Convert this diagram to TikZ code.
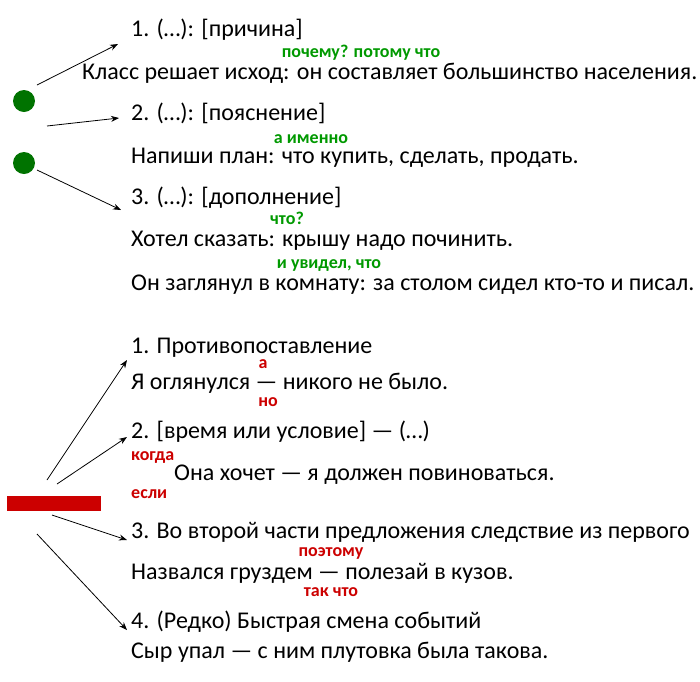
\documentclass[tikz,border=0pt]{standalone}
\usepackage{fontspec}
\setmainfont{Carlito}
\usetikzlibrary{arrows.meta}
\begin{document}
\begin{tikzpicture}[x=1pt,y=-1pt,
  txt/.style={anchor=west,inner sep=0pt,font=\fontsize{24}{26}\selectfont},
  grn/.style={inner sep=0pt,font=\fontsize{18}{20}\selectfont\bfseries,text=green!60!black},
  red/.style={inner sep=0pt,font=\fontsize{18}{20}\selectfont\bfseries,text=red!80!black},
  arr/.style={-{Stealth[length=8pt,width=6pt]},line width=0.8pt}]
\useasboundingbox (0,0) rectangle (700,681);
% upper part
\node[txt] (a1) at (131,30) {1. (…): [причина]};
\node[grn] (g1) at (361,53) {почему? потому что};
\node[txt] (a1e) at (82,73) {Класс решает исход: он составляет большинство населения.};
\node[txt] (a2) at (131,113) {2. (…): [пояснение]};
\node[grn] (g2) at (311,139) {а именно};
\node[txt] (a2e) at (131,158) {Напиши план: что купить, сделать, продать.};
\node[txt] (a3) at (131,198) {3. (…): [дополнение]};
\node[grn] (g3) at (287,218) {что?};
\node[txt] (a3e) at (131,241) {Хотел сказать: крышу надо починить.};
\node[grn] (g4) at (329,266) {и увидел, что};
\node[txt] (a4e) at (131,285) {Он заглянул в комнату: за столом сидел кто-то и писал.};
\fill[green!45!black] (24,101) circle (11);
\fill[green!45!black] (24,163) circle (11);
\coordinate (s1) at (37,85); \coordinate (e1) at (118,44);
\coordinate (s2) at (47,126); \coordinate (e2) at (119,118);
\coordinate (s3) at (37,170); \coordinate (e3) at (121,210);
\draw[arr] (s1) -- (e1);
\draw[arr] (s2) -- (e2);
\draw[arr] (s3) -- (e3);
% lower part
\node[txt] (b1) at (131,348) {1. Противопоставление};
\node[txt] (b1e) at (131,383) {Я оглянулся — никого не было.};
\node[red] (r1) at (263,364) {а};
\node[red] (r2) at (268,402) {но};
\node[txt] (b2) at (131,432) {2. [время или условие] — (…)};
\node[red,anchor=west] (r3) at (131,457) {когда};
\node[txt] (b2e) at (174,475) {Она хочет — я должен повиноваться.};
\node[red,anchor=west] (r4) at (131,494) {если};
\fill[red!80!black] (7,496) rectangle (101,511);
\node[txt] (b3) at (131,532) {3. Во второй части предложения следствие из первого};
\node[red] (r5) at (331,553) {поэтому};
\node[txt] (b3e) at (131,573) {Назвался груздем — полезай в кузов.};
\node[red] (r6) at (331,592) {так что};
\node[txt] (b4) at (131,622) {4. (Редко) Быстрая смена событий};
\node[txt] (b4e) at (131,652) {Сыр упал — с ним плутовка была такова.};
\coordinate (t1) at (47,480); \coordinate (u1) at (127,360);
\coordinate (t2) at (57,484); \coordinate (u2) at (127,437);
\coordinate (t3) at (52,515); \coordinate (u3) at (127,540);
\coordinate (t4) at (37,534); \coordinate (u4) at (127,630);
\draw[arr] (t1) -- (u1);
\draw[arr] (t2) -- (u2);
\draw[arr] (t3) -- (u3);
\draw[arr] (t4) -- (u4);
\end{tikzpicture}
\end{document}
